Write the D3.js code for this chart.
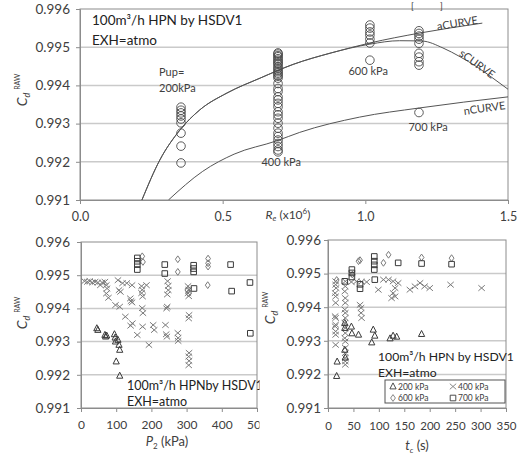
<!DOCTYPE html>
<html>
<head>
<meta charset="utf-8">
<script src="https://cdn.jsdelivr.net/npm/d3@7"></script>
<style>
  body { margin: 0; background: #fff; }
  svg { display: block; font-family: Lato, "Liberation Sans", Arial, sans-serif; }
</style>
</head>
<body>
<svg id="chart" width="520" height="455"></svg>
<script>
"use strict";

// ---- data ----
const cdTicks = [0.991, 0.992, 0.993, 0.994, 0.995, 0.996];
const reTicks = [0, 0.5, 1.0, 1.5];
const p2Ticks = [0, 100, 200, 300, 400, 500];
const tcTicks = [0, 50, 100, 150, 200, 250, 300, 350];

// top chart: Re (x10^6) of each upstream pressure and its Cd values
const pupRe = [0.354, 0.694, 1.016, 1.188];
const top200 = [0.99343, 0.99335, 0.99328, 0.9932, 0.99312, 0.99302, 0.99275, 0.99241, 0.99197];
const top400 = [0.99485, 0.99482, 0.99478, 0.99475, 0.9947, 0.99466, 0.99462, 0.99458, 0.99455,
  0.99449, 0.99445, 0.9944, 0.99436, 0.99432, 0.99428, 0.99424, 0.99419, 0.99405, 0.99392,
  0.99384, 0.9937, 0.99362, 0.99353, 0.99344, 0.99331, 0.99323, 0.99314, 0.99301, 0.99288,
  0.99275, 0.99266, 0.99257, 0.99248, 0.9924, 0.99231, 0.99226];
const top600 = [0.99558, 0.9955, 0.9954, 0.99532, 0.99521, 0.99511, 0.99466];
const top700 = [0.99543, 0.99536, 0.99529, 0.99521, 0.9951, 0.99484, 0.99474, 0.99462, 0.99453, 0.99329];

const aCurve = [[0.217, 0.991], [0.28, 0.99205], [0.35, 0.99283], [0.42, 0.99336], [0.515, 0.9938],
  [0.631, 0.99419], [0.747, 0.99455], [0.88, 0.99485], [1.016, 0.99511], [1.19, 0.99537], [1.41, 0.99563]];
const sCurve = [[0.217, 0.991], [0.28, 0.99205], [0.35, 0.99283], [0.42, 0.99336], [0.515, 0.9938],
  [0.631, 0.99419], [0.747, 0.99455], [0.88, 0.99485], [1.016, 0.99508], [1.12, 0.99517], [1.2, 0.99516],
  [1.272, 0.99498], [1.332, 0.99475], [1.39, 0.99449], [1.447, 0.99419], [1.5, 0.9939]];
const nCurve = [[0.31, 0.991], [0.43, 0.99175], [0.54, 0.9922], [0.69, 0.99255], [0.77, 0.99277],
  [0.98, 0.99317], [1.19, 0.99341], [1.5, 0.9937]];

// bottom left: [P2 kPa, Cd]
const p2_200 = [[45, 0.9934], [48, 0.99335], [68, 0.9932], [70, 0.99315], [73, 0.99318], [95, 0.99322],
  [97, 0.99312], [98, 0.993], [105, 0.99305], [108, 0.9929], [110, 0.99275], [100, 0.9924], [110, 0.99197]];
const p2_400 = [[10, 0.99482], [18, 0.9948], [25, 0.99482], [32, 0.99478], [40, 0.9948], [48, 0.99478],
  [55, 0.9947], [60, 0.99478], [68, 0.9948], [72, 0.9947], [74, 0.9946], [72, 0.99445], [78, 0.99432],
  [105, 0.99485], [108, 0.99455], [112, 0.9945], [118, 0.99476], [130, 0.99476], [145, 0.9947],
  [98, 0.9941], [110, 0.99405], [140, 0.9943], [142, 0.99422], [145, 0.99418],
  [172, 0.99467], [174, 0.99456], [172, 0.99446], [175, 0.99436], [186, 0.9947], [174, 0.99401], [176, 0.99386],
  [126, 0.99375], [146, 0.99355], [141, 0.99348], [175, 0.99345], [160, 0.9932], [193, 0.9929],
  [205, 0.9935], [208, 0.99335], [240, 0.9935], [242, 0.99322], [244, 0.99315],
  [246, 0.99482], [248, 0.99468], [248, 0.99455], [245, 0.99442], [245, 0.99405], [243, 0.994],
  [275, 0.99326], [276, 0.99311], [276, 0.99302],
  [304, 0.99467], [306, 0.99456], [304, 0.99446], [306, 0.99437], [307, 0.9938], [306, 0.9937],
  [307, 0.99266], [306, 0.99255], [307, 0.99242], [306, 0.99229]];
const p2_600 = [[174, 0.99557], [176, 0.9954], [275, 0.99548], [275, 0.9951], [361, 0.9955],
  [361, 0.99536], [361, 0.99526], [360, 0.9947], [303, 0.99455], [305, 0.99445]];
const p2_700 = [[160, 0.99552], [160, 0.99542], [160, 0.99532], [160, 0.99517], [238, 0.99532],
  [238, 0.99505], [320, 0.9953], [320, 0.9952], [320, 0.9951], [321, 0.9946], [425, 0.99532],
  [428, 0.99452], [480, 0.99478], [481, 0.99325]];

// bottom right: [tc s, Cd]
const tc_200 = [[18, 0.99238], [17, 0.99195], [33, 0.99353], [33, 0.99338], [33, 0.99273], [34, 0.9925],
  [46, 0.99342], [47, 0.99322], [60, 0.99318], [86, 0.99295], [89, 0.99333], [92, 0.99315],
  [122, 0.99307], [128, 0.99315], [135, 0.99312], [184, 0.9932]];
const tc_400 = [[15, 0.99477], [15, 0.99467], [16, 0.99457], [14, 0.99442], [15, 0.99432], [15, 0.99413],
  [14, 0.99373], [15, 0.99368], [15, 0.99348], [14, 0.99343], [15, 0.99328], [15, 0.99318], [15, 0.99288],
  [34, 0.99477], [34, 0.99462], [33, 0.99447], [34, 0.99427], [34, 0.99413], [33, 0.99393], [34, 0.99383],
  [34, 0.99368], [33, 0.99353], [34, 0.99338], [34, 0.99323], [33, 0.99308], [34, 0.99298], [34, 0.99279],
  [34, 0.99264], [34, 0.99249], [34, 0.99239], [34, 0.99229],
  [46, 0.99475], [56, 0.99477], [66, 0.99476], [76, 0.99475], [63, 0.99407], [65, 0.99398], [65, 0.99383],
  [66, 0.99368], [99, 0.99452], [109, 0.99482], [119, 0.99482], [128, 0.99477], [138, 0.99472],
  [132, 0.99457], [128, 0.99442], [132, 0.99432], [125, 0.99427], [161, 0.99452], [171, 0.99462],
  [181, 0.99472], [190, 0.99462], [200, 0.99457], [241, 0.99467], [302, 0.99457]];
const tc_600 = [[17, 0.99481], [48, 0.99497], [60, 0.99537], [63, 0.9954], [109, 0.99532], [119, 0.99556],
  [184, 0.99548], [243, 0.99546]];
const tc_700 = [[91, 0.99551], [91, 0.99537], [91, 0.99526], [91, 0.99512], [47, 0.99512], [47, 0.99502],
  [47, 0.9949], [63, 0.99468], [63, 0.99455], [92, 0.99482], [33, 0.99477], [138, 0.99532],
  [184, 0.9953], [243, 0.99528]];

const legendLabels = ["200 kPa", "400 kPa", "600 kPa", "700 kPa"];

// ---- styles ----
const ink = "#404040";
const gridColor = "#cacaca";
const frameColor = "#8c8c8c";
const shapes = {
  tri: "M0,-3.6L3.1,2.4L-3.1,2.4Z",
  x: "M-3.2,-2.8L3.2,2.8M-3.2,2.8L3.2,-2.8",
  dia: "M0,-3.4L2.4,0L0,3.4L-2.4,0Z",
  sq: "M-2.8,-2.8h5.6v5.6h-5.6Z"
};
const shapeColor = { tri: "#3a3a3a", x: "#7a7a7a", dia: "#7a7a7a", sq: "#3a3a3a" };

const svg = d3.select("#chart");
const defs = svg.append("defs");
defs.append("clipPath").attr("id", "clipLeft")
  .append("rect").attr("x", 0).attr("y", 222).attr("width", 259.5).attr("height", 233);
defs.append("clipPath").attr("id", "clipTop")
  .append("rect").attr("x", 80).attr("y", 9).attr("width", 428).attr("height", 191);

function panel(g, x, y, xTicks, xFmt, o) {
  const [x0, x1] = x.range();
  const [y0, y1] = y.range();
  g.append("g").selectAll("line").data(cdTicks.slice(1, -1)).join("line")
    .attr("x1", x0).attr("x2", x1)
    .attr("y1", d => y(d)).attr("y2", d => y(d))
    .attr("stroke", gridColor).attr("stroke-width", 1.5);
  g.append("rect").attr("x", x0).attr("y", y1).attr("width", x1 - x0).attr("height", y0 - y1)
    .attr("fill", "none").attr("stroke", frameColor);

  const ya = g.append("g").attr("transform", `translate(${x0},0)`)
    .call(d3.axisLeft(y).tickValues(cdTicks).tickFormat(d3.format(".3f")).tickSize(4).tickPadding(o.ypad));
  const xa = g.append("g").attr("transform", `translate(0,${y0})`)
    .call(d3.axisBottom(x).tickValues(xTicks).tickFormat(xFmt).tickSize(4).tickPadding(o.xpad));
  [ya, xa].forEach(a => {
    a.attr("font-family", null);
    a.select(".domain").attr("stroke", frameColor);
    a.selectAll(".tick line").attr("stroke", frameColor);
  });
  ya.selectAll(".tick text").attr("fill", ink).attr("font-size", 13.5);
  xa.selectAll(".tick text").attr("fill", ink).attr("font-size", o.xsize);
}

function cdTitle(g, cx, cy) {
  const t = g.append("text").attr("transform", `translate(${cx},${cy}) rotate(-90)`)
    .attr("text-anchor", "middle").attr("fill", ink);
  t.append("tspan").attr("font-style", "italic").attr("font-size", 14).text("C");
  t.append("tspan").attr("font-style", "italic").attr("font-size", 9).attr("dy", 3).text("d");
  t.append("tspan").attr("font-size", 7).attr("dx", 3).attr("dy", -10).text("RAW");
}

function markers(g, x, y, data, shape) {
  g.append("g").selectAll("path").data(data).join("path")
    .attr("transform", d => `translate(${x(d[0])},${y(d[1])})`)
    .attr("d", shapes[shape])
    .attr("fill", "none")
    .attr("stroke", shapeColor[shape])
    .attr("stroke-width", 1);
}

function note(g, x, y1, y2, line1, size) {
  g.append("text").attr("x", x).attr("y", y1).attr("font-size", size).attr("fill", "#222").text(line1);
  g.append("text").attr("x", x).attr("y", y2).attr("font-size", size).attr("fill", "#222").text("EXH=atmo");
}

// ================= top chart =================
{
  const g = svg.append("g");
  const x = d3.scaleLinear().domain([0, 1.5]).range([80, 508]);
  const y = d3.scaleLinear().domain([0.991, 0.996]).range([200, 9]);
  panel(g, x, y, reTicks, d3.format(".1f"), { ypad: 6, xpad: 8, xsize: 12.5 });

  const line = d3.line().x(d => x(d[0])).y(d => y(d[1])).curve(d3.curveMonotoneX);
  const curves = g.append("g").attr("clip-path", "url(#clipTop)");
  [aCurve, sCurve, nCurve].forEach(c => {
    curves.append("path").datum(c).attr("d", line)
      .attr("fill", "none").attr("stroke", "#555").attr("stroke-width", 1);
  });

  [top200, top400, top600, top700].forEach((vals, i) => {
    g.append("g").selectAll("circle").data(vals).join("circle")
      .attr("cx", x(pupRe[i])).attr("cy", d => y(d)).attr("r", 4.3)
      .attr("fill", "none").attr("stroke", "#4a4a4a").attr("stroke-width", 0.9);
  });

  const lab = (t, re, cd, anchor) => g.append("text").attr("x", x(re)).attr("y", y(cd))
    .attr("text-anchor", anchor).attr("font-size", 11).attr("fill", ink).text(t);
  lab("Pup=", 0.277, 0.99425, "start");
  lab("200kPa", 0.277, 0.99383, "start");
  lab("400 kPa", 0.705, 0.99189, "middle");
  lab("600 kPa", 1.01, 0.99427, "middle");
  lab("700 kPa", 1.22, 0.99281, "middle");

  const curveLab = (t, cx, cy, ang) => g.append("text")
    .attr("transform", `translate(${cx},${cy}) rotate(${ang})`)
    .attr("text-anchor", "middle").attr("font-size", 11).attr("fill", ink).text(t);
  curveLab("aCURVE", 458, 27, -9);
  curveLab("sCURVE", 475, 67, 36);
  curveLab("nCURVE", 485, 112, -8);

  note(g, 92, 25, 45, "100m³/h HPN by HSDV1", 13.5);
  cdTitle(g, 27, 90);

  const xt = g.append("text").attr("x", 288).attr("y", 219).attr("text-anchor", "middle")
    .attr("font-size", 12).attr("fill", ink);
  xt.append("tspan").attr("font-style", "italic").text("R");
  xt.append("tspan").attr("font-style", "italic").attr("font-size", 8).attr("dy", 2).text("e");
  xt.append("tspan").attr("dy", -2).text(" (x10");
  xt.append("tspan").attr("font-size", 8).attr("dy", -5).text("6");
  xt.append("tspan").attr("dy", 5).text(")");

  g.append("text").attr("x", 411).attr("y", 9).attr("font-size", 9).attr("fill", "#333").text("[");
  g.append("text").attr("x", 440).attr("y", 9).attr("font-size", 9).attr("fill", "#333").text("]");
}

// ================= bottom left =================
{
  const g = svg.append("g").attr("clip-path", "url(#clipLeft)");
  const x = d3.scaleLinear().domain([0, 500]).range([81, 257]);
  const y = d3.scaleLinear().domain([0.991, 0.996]).range([408, 242]);
  panel(g, x, y, p2Ticks, d3.format("d"), { ypad: 7, xpad: 8, xsize: 12 });
  markers(g, x, y, p2_400, "x");
  markers(g, x, y, p2_600, "dia");
  markers(g, x, y, p2_700, "sq");
  markers(g, x, y, p2_200, "tri");
  note(g, 127, 390, 406, "100m³/h HPNby HSDV1", 12.5);
  cdTitle(g, 27, 313);

  const xt = g.append("text").attr("x", 167).attr("y", 446).attr("text-anchor", "middle")
    .attr("font-size", 13).attr("fill", ink);
  xt.append("tspan").attr("font-style", "italic").text("P");
  xt.append("tspan").attr("font-size", 8).attr("dy", 3).text("2");
  xt.append("tspan").attr("dy", -3).text(" (kPa)");
}

// ================= bottom right =================
{
  const g = svg.append("g");
  const x = d3.scaleLinear().domain([0, 350]).range([328, 506]);
  const y = d3.scaleLinear().domain([0.991, 0.996]).range([408, 240]);
  panel(g, x, y, tcTicks, d3.format("d"), { ypad: 3, xpad: 10, xsize: 11.5 });
  markers(g, x, y, tc_400, "x");
  markers(g, x, y, tc_600, "dia");
  markers(g, x, y, tc_700, "sq");
  markers(g, x, y, tc_200, "tri");
  note(g, 378, 361, 377, "100m³/h HPN by HSDV1", 12.2);
  cdTitle(g, 275, 308);

  const xt = g.append("text").attr("x", 417).attr("y", 450).attr("text-anchor", "middle")
    .attr("font-size", 13).attr("fill", ink);
  xt.append("tspan").attr("font-style", "italic").text("t");
  xt.append("tspan").attr("font-style", "italic").attr("font-size", 8).attr("dy", 3).text("c");
  xt.append("tspan").attr("dy", -3).text(" (s)");

  // legend
  const lg = g.append("g");
  lg.append("rect").attr("x", 385).attr("y", 380).attr("width", 120).attr("height", 23)
    .attr("fill", "#fff").attr("stroke", "#555").attr("stroke-width", 1);
  const keys = ["tri", "x", "dia", "sq"];
  keys.forEach((k, i) => {
    const lx = i % 2 === 0 ? 393 : 453;
    const ly = i < 2 ? 386.5 : 398;
    lg.append("path").attr("transform", `translate(${lx},${ly})`).attr("d", shapes[k])
      .attr("fill", "none").attr("stroke", shapeColor[k]).attr("stroke-width", 0.9);
    lg.append("text").attr("x", lx + 5).attr("y", ly + 3).attr("font-size", 8.5)
      .attr("fill", ink).text(legendLabels[i]);
  });
}
</script>
</body>
</html>
